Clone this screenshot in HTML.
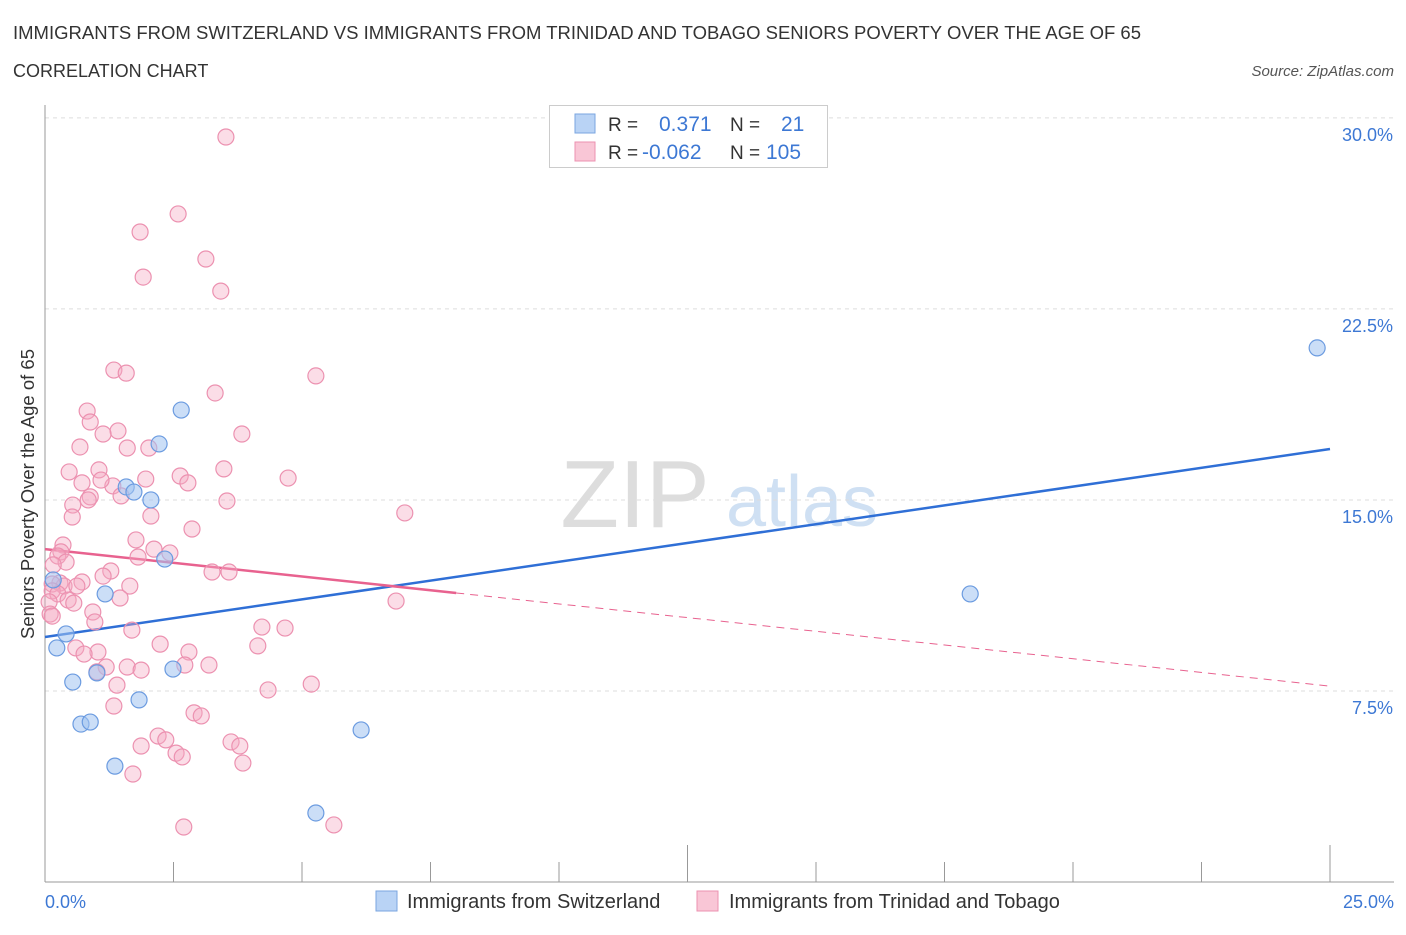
<!DOCTYPE html>
<html><head><meta charset="utf-8"><style>
body{margin:0;background:#fff;font-family:"Liberation Sans",sans-serif;}
svg text{font-family:"Liberation Sans",sans-serif;}
</style></head><body>
<svg id="chart" width="1406" height="930" xmlns="http://www.w3.org/2000/svg">
<text x="13" y="39" font-size="18.5" fill="#333" textLength="1128" lengthAdjust="spacingAndGlyphs">IMMIGRANTS FROM SWITZERLAND VS IMMIGRANTS FROM TRINIDAD AND TOBAGO SENIORS POVERTY OVER THE AGE OF 65</text>
<text x="13" y="77" font-size="18" fill="#333">CORRELATION CHART</text>
<text x="1394" y="76" font-size="15" fill="#555" font-style="italic" text-anchor="end">Source: ZipAtlas.com</text>
<g><text x="635" y="527" font-size="96" fill="#ddd" font-family="Liberation Serif" text-anchor="middle">ZIP</text><text x="802" y="526" font-size="72" fill="#cfe0f3" text-anchor="middle">atlas</text></g>
<g id="grid"></g>
<g id="axes"></g>
<g id="lines"></g>
<g id="points"></g>
<g>
<rect x="549.5" y="105.5" width="278" height="62" fill="#fff" stroke="#ccc"/>
<rect x="575" y="114" width="20" height="19" fill="#b9d3f5" stroke="#7aa6e0"/>
<rect x="575" y="142" width="20" height="19" fill="#f9c6d6" stroke="#ec91b0"/>
<text x="608" y="131" font-size="19" fill="#333">R =</text><text x="659" y="131" font-size="21" fill="#3d78d4">0.371</text>
<text x="730" y="131" font-size="19" fill="#333">N =</text><text x="781" y="131" font-size="21" fill="#3d78d4">21</text>
<text x="608" y="159" font-size="19" fill="#333">R =</text><text x="642" y="159" font-size="21" fill="#3d78d4">-0.062</text>
<text x="730" y="159" font-size="19" fill="#333">N =</text><text x="766" y="159" font-size="21" fill="#3d78d4">105</text>
</g>
<g>
<rect x="376" y="891" width="21" height="20" fill="#b9d3f5" stroke="#7aa6e0"/>
<text x="407" y="908" font-size="20" fill="#333">Immigrants from Switzerland</text>
<rect x="697" y="891" width="21" height="20" fill="#f9c6d6" stroke="#ec91b0"/>
<text x="729" y="908" font-size="20" fill="#333">Immigrants from Trinidad and Tobago</text>
</g>
<text transform="translate(34,494) rotate(-90)" font-size="18.5" fill="#333" text-anchor="middle">Seniors Poverty Over the Age of 65</text>
</svg>
<script>
const blueX=[24.75,18.0,2.65,2.22,1.58,1.73,2.06,2.33,1.17,0.16,0.41,0.23,0.54,1.01,2.49,1.83,0.70,0.88,1.36,6.15,5.27];
const blueY=[20.97,11.31,18.53,17.20,15.51,15.31,15.0,12.68,11.31,11.86,9.74,9.19,7.85,8.21,8.36,7.15,6.20,6.28,4.55,5.97,2.71];
const pinkX=[3.52,2.59,1.85,3.13,1.91,3.42,1.34,1.58,5.27,3.31,0.82,0.88,3.83,1.42,1.13,0.68,2.02,1.60,0.47,1.05,3.48,4.73,2.63,1.96,2.78,0.72,1.32,1.09,1.48,0.88,3.54,0.54,0.84,7.00,2.06,0.53,2.86,1.77,0.35,0.31,2.12,2.43,1.81,0.25,0.41,0.16,1.28,3.25,3.58,1.13,0.72,0.29,0.37,0.14,0.62,1.65,0.14,0.25,1.46,0.45,0.08,6.83,0.56,0.10,0.93,0.97,4.22,1.69,4.67,0.14,2.24,4.14,0.60,1.03,2.80,0.76,1.19,3.19,1.01,1.60,1.87,2.72,1.40,5.18,4.34,1.34,2.90,3.04,2.20,2.35,3.62,3.79,1.87,2.55,2.67,3.85,1.71,2.70,5.62];
const pinkY=[29.25,26.23,25.52,24.46,23.75,23.20,20.10,19.98,19.87,19.20,18.49,18.06,17.59,17.71,17.59,17.08,17.04,17.04,16.10,16.18,16.22,15.86,15.94,15.82,15.67,15.67,15.55,15.78,15.16,15.12,14.96,14.80,15.00,14.49,14.37,14.33,13.86,13.43,13.23,12.96,13.07,12.92,12.76,12.80,12.56,12.45,12.21,12.17,12.17,12.01,11.78,11.74,11.62,11.70,11.62,11.62,11.43,11.31,11.15,11.07,11.00,11.03,10.95,10.52,10.60,10.21,10.01,9.89,9.97,10.44,9.34,9.27,9.19,9.03,9.03,8.95,8.44,8.52,8.25,8.44,8.32,8.52,7.73,7.77,7.54,6.91,6.64,6.52,5.73,5.58,5.50,5.34,5.34,5.06,4.91,4.67,4.24,2.16,2.24];
const yTicks=[7.5,15.0,22.5,30.0];
const xTickLabels=["0.0%","25.0%"];
const blueTrend=[9.62,17.0];
const pinkTrend=[13.07,7.69];
const pinkSolidEnd=8.0;
const NS="http://www.w3.org/2000/svg";
const xs=v=>45+v*51.4, ys=v=>882-v*25.47;
function mk(t,a,p){const e=document.createElementNS(NS,t);for(const k in a)e.setAttribute(k,a[k]);p.appendChild(e);return e;}
const grid=document.getElementById('grid'),axes=document.getElementById('axes'),lines=document.getElementById('lines'),pts=document.getElementById('points');
yTicks.forEach(v=>{
 const l=mk('line',{x1:45,x2:1394,y1:ys(v),y2:ys(v),stroke:'#ddd','stroke-dasharray':'4,4'},grid);
 
 
 const t=mk('text',{x:1393,y:ys(v)+23,'font-size':18,fill:'#3d78d4','text-anchor':'end'},axes);
 t.textContent=v.toFixed(1)+'%';
 
 
});
const ya=mk('line',{x1:45,x2:45,y1:105,y2:882,stroke:'#999'},axes);


const xa=mk('line',{x1:45,x2:1394,y1:882,y2:882,stroke:'#999'},axes);


for(let i=0;i<=10;i++){const x=xs(i*2.5);const tk=mk('line',{x1:x,x2:x,y1:(i==5||i==10)?845:862,y2:882,stroke:'#999'},axes);
 
 }
[[0,'start',45],[25,'end',1394]].forEach((d,i)=>{const t=mk('text',{x:d[2],y:908,'font-size':18,fill:'#3d78d4','text-anchor':d[1]},axes);t.textContent=xTickLabels[i];
 
 });
const bl=mk('line',{x1:xs(0),y1:ys(blueTrend[0]),x2:xs(25),y2:ys(blueTrend[1]),stroke:'#2f6fd6','stroke-width':2.5},lines);


const pAt=x=>pinkTrend[0]+(pinkTrend[1]-pinkTrend[0])*x/25;
const ps=mk('line',{x1:xs(0),y1:ys(pAt(0)),x2:xs(pinkSolidEnd),y2:ys(pAt(pinkSolidEnd)),stroke:'#e8628f','stroke-width':2.5},lines);


const pd=mk('line',{x1:xs(pinkSolidEnd),y1:ys(pAt(pinkSolidEnd)),x2:xs(25),y2:ys(pAt(25)),stroke:'#e8628f','stroke-width':1,'stroke-dasharray':'8,6'},lines);


pinkX.forEach((x,i)=>{const c=mk('circle',{cx:xs(x),cy:ys(pinkY[i]),r:8,fill:'rgba(246,170,195,0.4)',stroke:'#ec91b0','stroke-width':1.2},pts);
 
 });
blueX.forEach((x,i)=>{const c=mk('circle',{cx:xs(x),cy:ys(blueY[i]),r:8,fill:'rgba(160,195,240,0.55)',stroke:'#6b9be0','stroke-width':1.2},pts);
 
 });
</script>
</body></html>
